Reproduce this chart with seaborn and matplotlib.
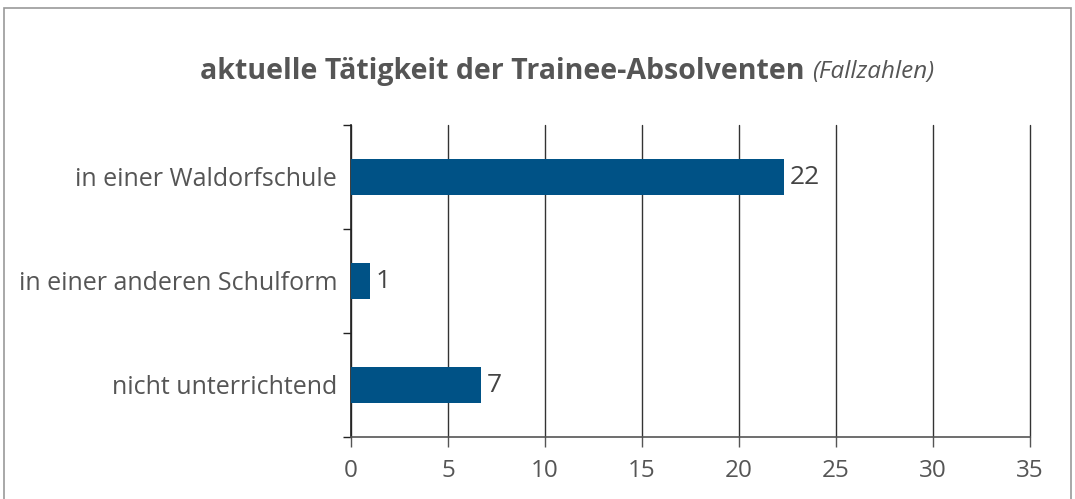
import matplotlib
matplotlib.use("Agg")
import matplotlib.pyplot as plt
import seaborn as sns
import pandas as pd
from matplotlib.patches import Rectangle

categories = ["in einer Waldorfschule", "in einer anderen Schulform", "nicht unterrichtend"]
values = [22.3, 0.98, 6.7]
value_labels = ["22", "1", "7"]
x_ticks = [0, 5, 10, 15, 20, 25, 30, 35]

sns.set_theme(style="white")
plt.rcParams['font.family'] = ['Open Sans', 'DejaVu Sans']

df = pd.DataFrame({"cat": categories, "val": values})

fig = plt.figure(figsize=(10.75, 4.99), dpi=100)
ax = fig.add_axes([351/1075, 1-437/499, (1030-351)/1075, (437-125)/499])

sns.barplot(data=df, y="cat", x="val", orient="h", color="#005286",
            width=0.34, saturation=1, linewidth=0, ax=ax, zorder=3)

ax.set_xlim(0, 35)
ax.set_ylim(2.5, -0.5)
ax.set_xticks(x_ticks)
ax.set_xticklabels([str(t) for t in x_ticks], fontsize=17.5, color="#555555")
ax.set_ylabel("")
ax.set_xlabel("")
ax.set_yticks([0, 1, 2])
ax.set_yticklabels(categories, fontsize=18, color="#555555")
ax.set_yticks([-0.5, 0.5, 1.5, 2.5], minor=True)
ax.tick_params(axis="y", which="major", length=0, pad=10)
ax.tick_params(axis="y", which="minor", length=6, width=1, color="#222222", direction="out", left=True)
ax.tick_params(axis="x", which="major", length=7, width=1, color="#555555", direction="out", bottom=True, pad=9)

ax.grid(axis="x", color="#333333", linewidth=1, zorder=0)
ax.grid(axis="y", visible=False)
for gl in ax.get_xgridlines():
    gl.set_clip_on(False)
for s in ["top", "right"]:
    ax.spines[s].set_visible(False)
ax.spines["left"].set_color("#222222")
ax.spines["left"].set_linewidth(1.2)
ax.spines["bottom"].set_color("#555555")
ax.spines["bottom"].set_linewidth(1.2)
ax.set_axisbelow(True)

for i, (v, lab) in enumerate(zip(values, value_labels)):
    ax.text(v + 0.3, i, lab, va="center", ha="left", fontsize=19, color="#444444")

fig.text(0.755, 1-72/499, "aktuelle Tätigkeit der Trainee-Absolventen ", ha="right", va="center",
         fontsize=20.5, fontweight="bold", color="#555555")
fig.text(0.755, 1-72/499, "(Fallzahlen)", ha="left", va="center",
         fontsize=17.5, fontstyle="italic", color="#555555")

fig.patches.append(Rectangle((0.004, -0.1), 0.992, 1-8/499+0.1, transform=fig.transFigure,
                             fill=False, edgecolor="#999999", linewidth=1.2))

fig.savefig("out.png", dpi=100)
